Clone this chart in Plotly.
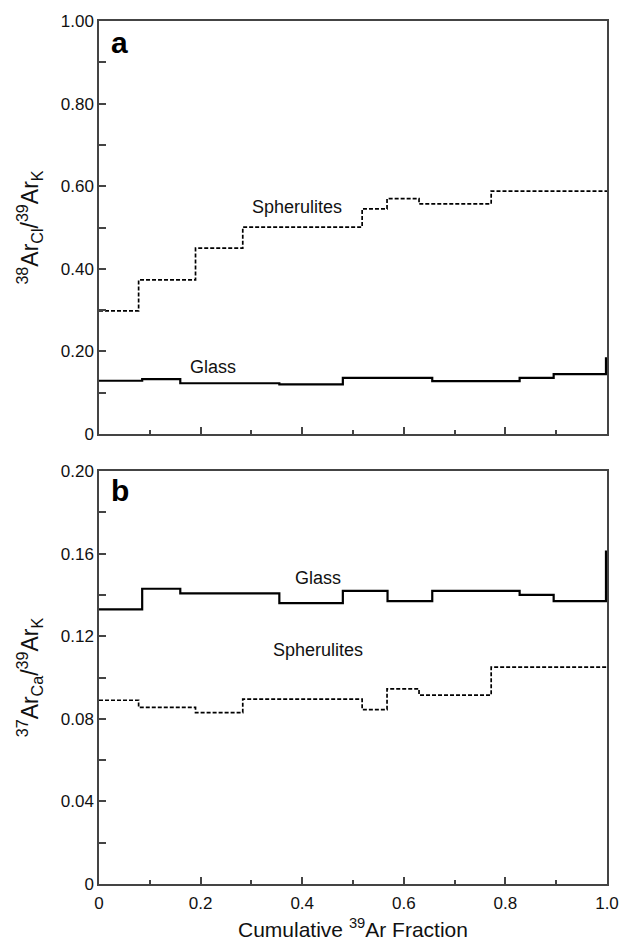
import plotly.graph_objects as go

# ---- data ----
glass_edges = [0, 0.085, 0.16, 0.355, 0.48, 0.568, 0.656, 0.828, 0.895, 0.998, 1.0]
glass_cl = [0.129, 0.133, 0.123, 0.120, 0.136, 0.136, 0.128, 0.136, 0.145, 0.183]
glass_ca_edges = [0, 0.085, 0.16, 0.30, 0.355, 0.48, 0.568, 0.656, 0.828, 0.895, 0.998, 1.0]
glass_ca = [0.133, 0.143, 0.1408, 0.1408, 0.136, 0.142, 0.137, 0.142, 0.140, 0.137, 0.161]

sph_edges = [0, 0.078, 0.19, 0.283, 0.518, 0.567, 0.63, 0.772, 1.0]
sph_cl = [0.298, 0.373, 0.450, 0.501, 0.545, 0.570, 0.557, 0.588]
sph_ca = [0.089, 0.0855, 0.083, 0.0895, 0.0845, 0.0945, 0.0915, 0.105]

top_ticks = [0, 0.2, 0.4, 0.6, 0.8, 1.0]
top_ticktext = ["0", "0.20", "0.40", "0.60", "0.80", "1.00"]
bot_ticks = [0, 0.04, 0.08, 0.12, 0.16, 0.20]
bot_ticktext = ["0", "0.04", "0.08", "0.12", "0.16", "0.20"]
x_ticks = [0, 0.2, 0.4, 0.6, 0.8, 1.0]
x_ticktext = ["0", "0.2", "0.4", "0.6", "0.8", "1.0"]


def step(edges, vals):
    return list(edges), list(vals) + [vals[-1]]


fig = go.Figure()
FONT = "Liberation Sans, Arial, sans-serif"

x, y = step(glass_edges, glass_cl)
fig.add_trace(go.Scatter(x=x, y=y, mode="lines", line=dict(shape="hv", color="black", width=2.2),
                         xaxis="x", yaxis="y", showlegend=False))
x, y = step(sph_edges, sph_cl)
fig.add_trace(go.Scatter(x=x, y=y, mode="lines", line=dict(shape="hv", color="black", width=1.7, dash="4px,2px"),
                         xaxis="x", yaxis="y", showlegend=False))
x, y = step(glass_ca_edges, glass_ca)
fig.add_trace(go.Scatter(x=x, y=y, mode="lines", line=dict(shape="hv", color="black", width=2.2),
                         xaxis="x2", yaxis="y2", showlegend=False))
x, y = step(sph_edges, sph_ca)
fig.add_trace(go.Scatter(x=x, y=y, mode="lines", line=dict(shape="hv", color="black", width=1.7, dash="4px,2px"),
                         xaxis="x2", yaxis="y2", showlegend=False))

axis_common = dict(showline=True, linecolor="#444", linewidth=1.5, mirror=True,
                   ticks="inside", tickcolor="#444", ticklen=7, tickwidth=1.5,
                   showgrid=False, zeroline=False,
                   tickfont=dict(family=FONT, size=17, color="#111"))

fig.update_layout(
    width=628, height=947,
    margin=dict(l=99, r=21, t=21, b=63),
    paper_bgcolor="white", plot_bgcolor="white",
    font=dict(family=FONT, color="#111"),
    xaxis=dict(domain=[0, 1], anchor="y", range=[0, 1], tickvals=x_ticks, showticklabels=False,
               minor=dict(dtick=0.1, ticks="inside", ticklen=4, tickcolor="#444", tickwidth=1.5),
               **axis_common),
    yaxis=dict(domain=[0.5214, 1], anchor="x", range=[0, 1], tickvals=top_ticks, ticktext=top_ticktext,
               minor=dict(dtick=0.1, ticks="inside", ticklen=7, tickcolor="#444", tickwidth=1.5),
               title=dict(text="<sup>38</sup>Ar<sub>Cl</sub>/<sup>39</sup>Ar<sub>K</sub>",
                          font=dict(family=FONT, size=23), standoff=16),
               **axis_common),
    xaxis2=dict(domain=[0, 1], anchor="y2", range=[0, 1], tickvals=x_ticks, ticktext=x_ticktext,
                minor=dict(dtick=0.1, ticks="inside", ticklen=4, tickcolor="#444", tickwidth=1.5),
                ticklabelstandoff=3, automargin=False,
                **axis_common),
    yaxis2=dict(domain=[0, 0.4785], anchor="x2", range=[0, 0.2], tickvals=bot_ticks, ticktext=bot_ticktext,
                minor=dict(dtick=0.02, ticks="inside", ticklen=7, tickcolor="#444", tickwidth=1.5),
                title=dict(text="<sup>37</sup>Ar<sub>Ca</sub>/<sup>39</sup>Ar<sub>K</sub>",
                           font=dict(family=FONT, size=23), standoff=16),
                **axis_common),
)

ann = [
    dict(text="<b>a</b>", x=0.02, y=0.992, xref="x", yref="y", xanchor="left", yanchor="top",
         font=dict(family=FONT, size=30, color="black"), showarrow=False),
    dict(text="<b>b</b>", x=0.02, y=0.1995, xref="x2", yref="y2", xanchor="left", yanchor="top",
         font=dict(family=FONT, size=30, color="black"), showarrow=False),
    dict(text="Spherulites", x=0.39, y=0.55, xref="x", yref="y", xanchor="center", yanchor="middle",
         font=dict(family=FONT, size=18, color="#111"), showarrow=False),
    dict(text="Glass", x=0.224, y=0.162, xref="x", yref="y", xanchor="center", yanchor="middle",
         font=dict(family=FONT, size=18, color="#111"), showarrow=False),
    dict(text="Glass", x=0.431, y=0.148, xref="x2", yref="y2", xanchor="center", yanchor="middle",
         font=dict(family=FONT, size=18, color="#111"), showarrow=False),
    dict(text="Spherulites", x=0.431, y=0.1135, xref="x2", yref="y2", xanchor="center", yanchor="middle",
         font=dict(family=FONT, size=18, color="#111"), showarrow=False),
    dict(text="Cumulative <sup>39</sup>Ar Fraction", x=0.5, y=-0.051, xref="paper", yref="paper",
         xanchor="center", yanchor="middle", font=dict(family=FONT, size=21, color="#111"), showarrow=False),
]
fig.update_layout(annotations=ann)

fig.write_html("out.html")
